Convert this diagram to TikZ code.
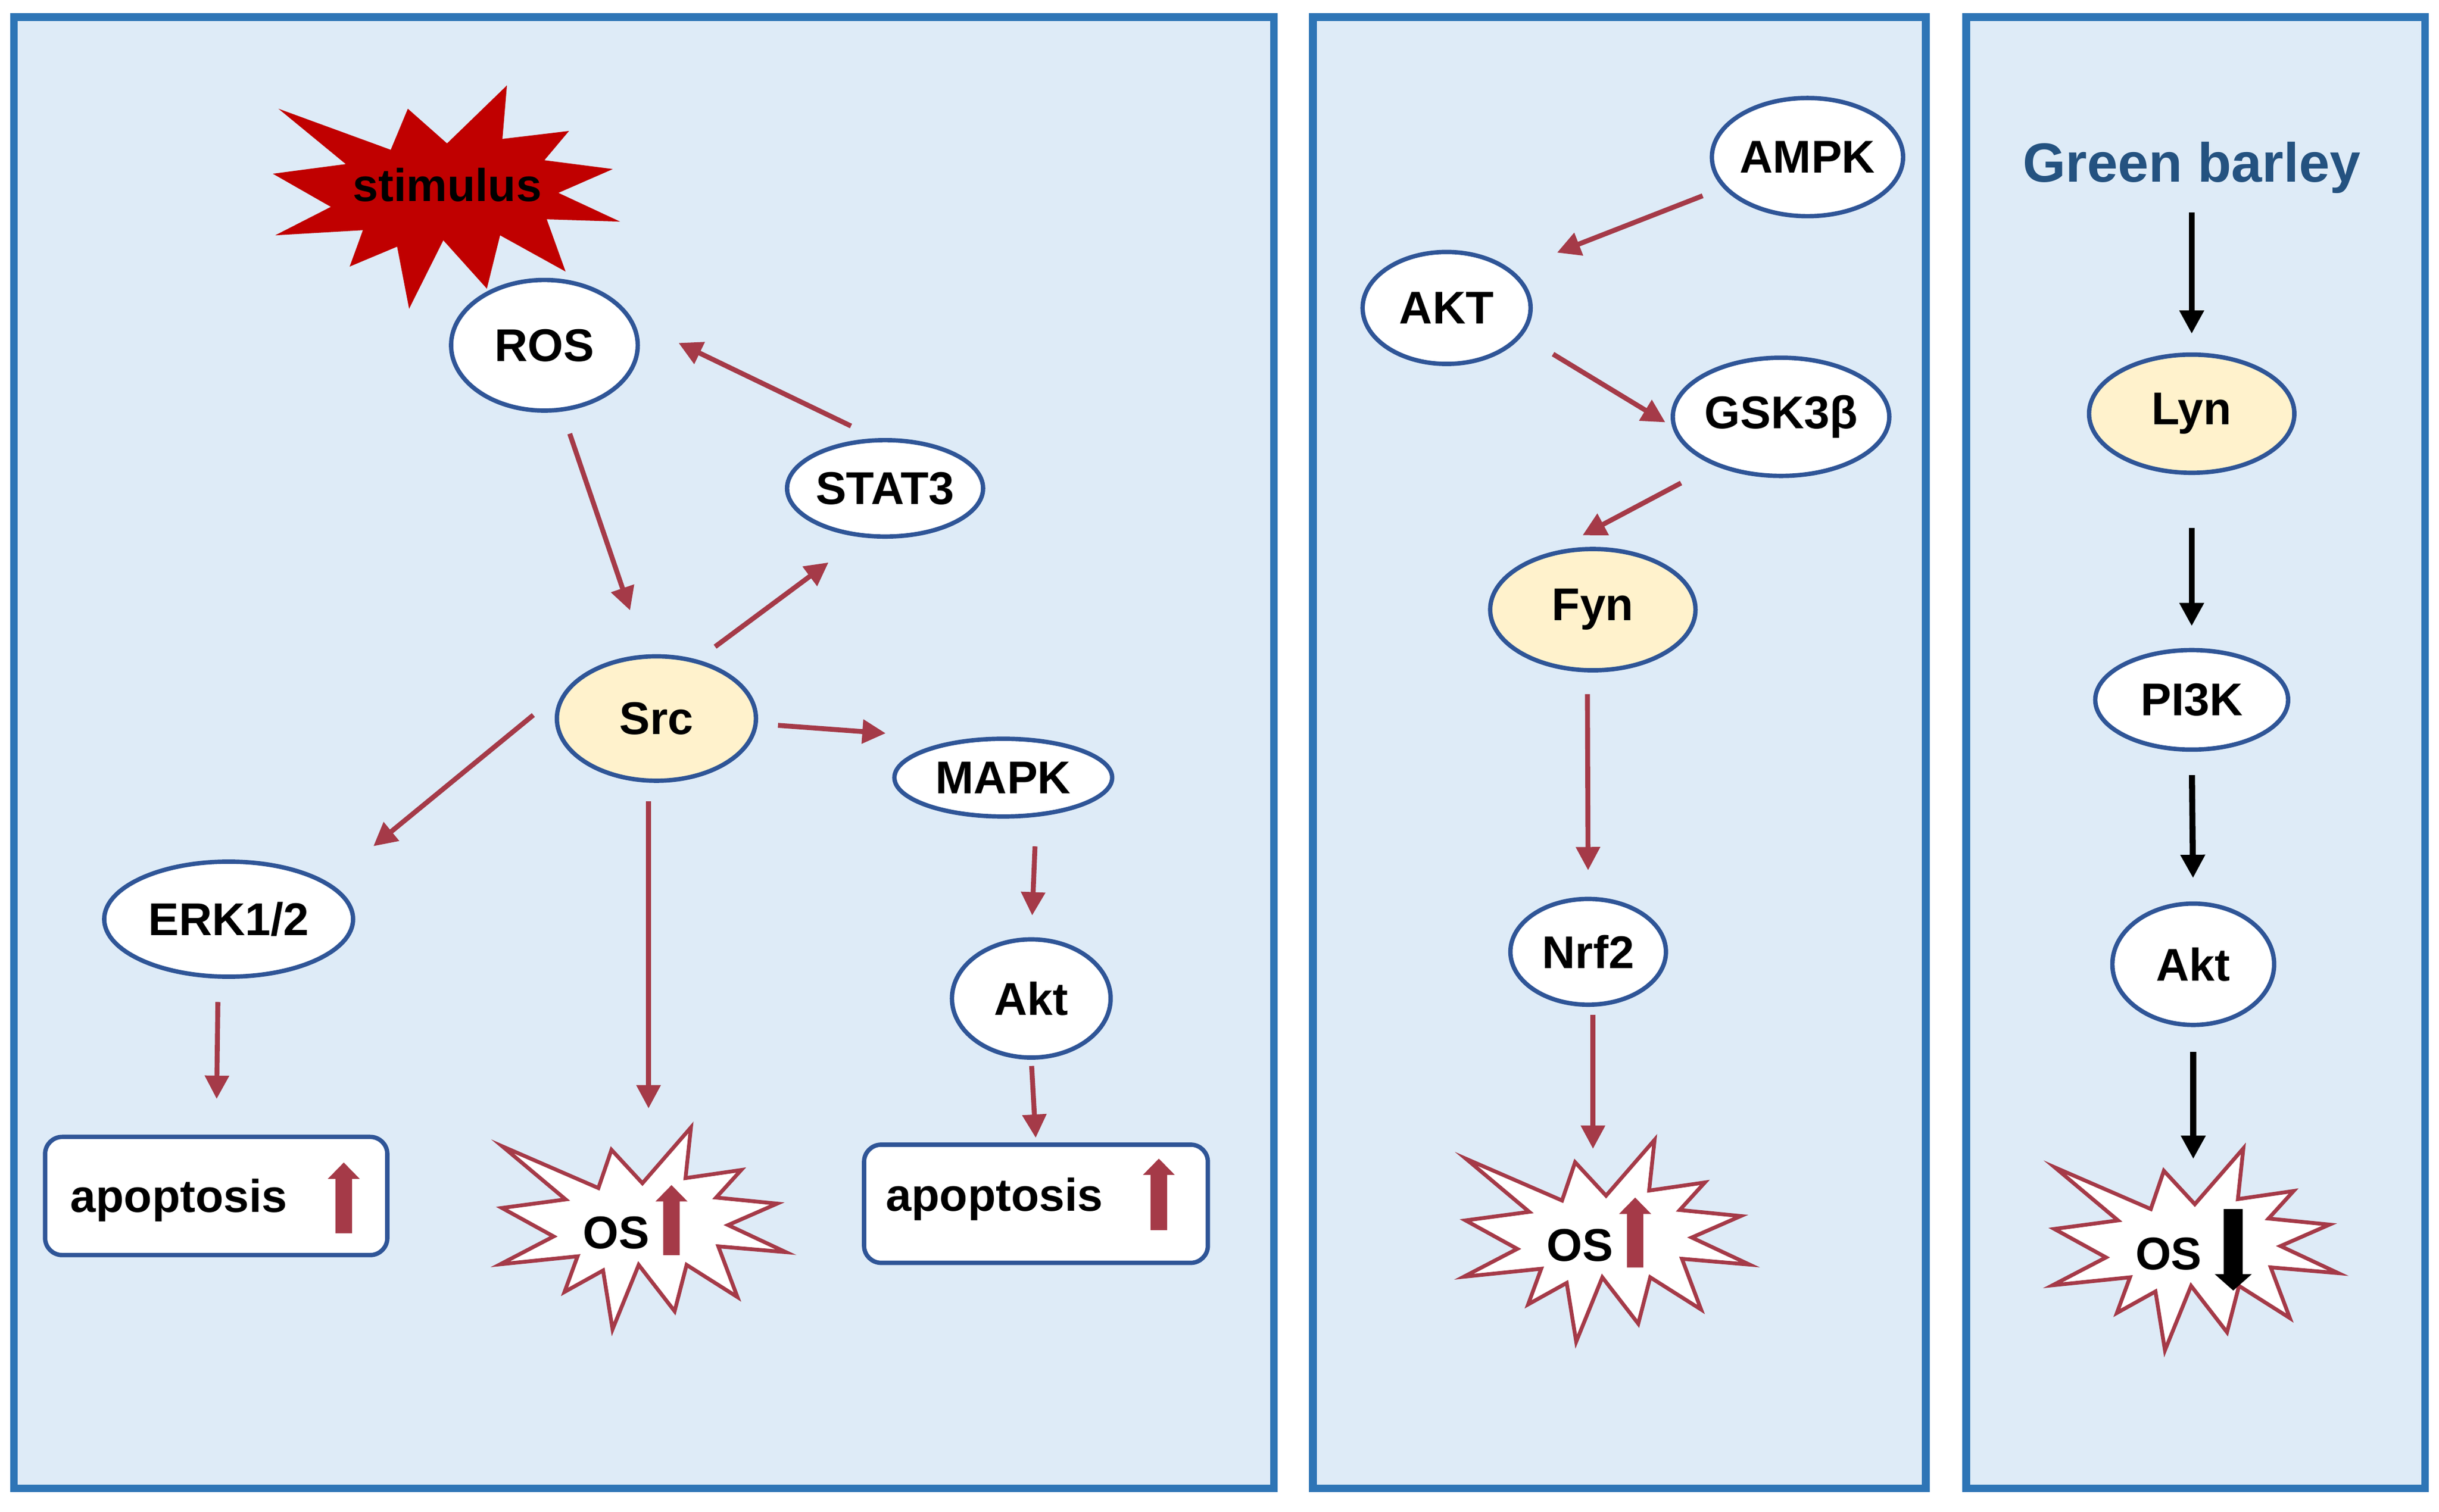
\documentclass[tikz,border=0pt]{standalone}
\usepackage{fontspec}
\setmainfont{Liberation Sans}
\usetikzlibrary{arrows.meta,shapes.geometric}
\definecolor{frameblue}{RGB}{46,117,182}
\definecolor{panelfill}{RGB}{222,235,247}
\definecolor{nodeblue}{RGB}{47,85,151}
\definecolor{cream}{RGB}{255,242,204}
\definecolor{arrred}{RGB}{165,58,72}
\definecolor{stimred}{RGB}{192,0,0}
\definecolor{barleyblue}{RGB}{36,82,128}
\tikzset{%
    panel/.style={draw=frameblue,line width=1.4pt,fill=panelfill},
    prot/.style={ellipse,draw=nodeblue,line width=0.8pt,fill=white,inner sep=0pt,
        font=\fontsize{8.4}{10}\selectfont\bfseries},
    kin/.style={prot,fill=cream},
    outbox/.style={rectangle,rounded corners=0.11cm,draw=nodeblue,line width=0.8pt,fill=white,
        minimum width=2.2cm,minimum height=0.76cm},
    lbl/.style={inner sep=0pt,font=\fontsize{8.4}{10}\selectfont\bfseries},
    redarr/.style={arrred,line width=0.9pt,-{Triangle[length=0.15cm,width=0.15cm]}},
    blkarr/.style={black,line width=1.1pt,-{Triangle[length=0.15cm,width=0.15cm]}},
    burst/.style={draw=arrred,line width=0.7pt,fill=white}
}
\newcommand{\osburst}[1]{%
    \draw[burst,shift={#1}] (-0.897,0.536) -- (-0.280,0.268) -- (-0.196,0.514) -- (0.003,0.299)
        -- (0.315,0.658) -- (0.280,0.332) -- (0.638,0.384) -- (0.477,0.207)
        -- (0.869,0.168) -- (0.554,0.030) -- (0.925,-0.144) -- (0.491,-0.107)
        -- (0.614,-0.433) -- (0.287,-0.226) -- (0.210,-0.524) -- (-0.021,-0.226)
        -- (-0.189,-0.640) -- (-0.250,-0.262) -- (-0.498,-0.400) -- (-0.414,-0.171)
        -- (-0.911,-0.222) -- (-0.568,-0.043) -- (-0.900,0.140) -- (-0.491,0.195) -- cycle;}
\newcommand{\fatarrow}[3]{%
    \fill[shift={#1},#3] (-0.053,0) -- (0.053,0) -- (0.053,#2-0.105) -- (0.103,#2-0.105)
        -- (0,#2) -- (-0.103,#2-0.105) -- (-0.053,#2-0.105) -- cycle;}

\begin{document}
\begin{tikzpicture}
    \fill[white] (0,0) rectangle (15.68,-9.72);
    \useasboundingbox (0,0) rectangle (15.68,-9.72);
    \draw[panel] (0.09,-0.11) rectangle (8.19,-9.57);
    \draw[panel] (8.44,-0.11) rectangle (12.38,-9.57);
    \draw[panel] (12.64,-0.11) rectangle (15.59,-9.57);

    \fill[stimred,shift={(2.87,-1.25)}] (0.389,0.701) -- (0.360,0.357) -- (0.788,0.408) -- (0.630,0.220)
        -- (1.070,0.163) -- (0.720,0.010) -- (1.117,-0.175) -- (0.645,-0.160)
        -- (0.766,-0.496) -- (0.345,-0.263) -- (0.260,-0.606) -- (-0.020,-0.295)
        -- (-0.240,-0.735) -- (-0.317,-0.336) -- (-0.622,-0.464) -- (-0.537,-0.230)
        -- (-1.101,-0.263) -- (-0.743,-0.080) -- (-1.116,0.133) -- (-0.647,0.195)
        -- (-1.080,0.551) -- (-0.358,0.287) -- (-0.248,0.551) -- (0.004,0.328) -- cycle;
    \node[lbl] (stim) at (2.875,-1.19) {stimulus};
    \node[prot,minimum width=1.20cm,minimum height=0.84cm] (ros) at (3.50,-2.22) {ROS};
    \node[prot,minimum width=1.26cm,minimum height=0.62cm] (stat) at (5.69,-3.14) {STAT3};
    \node[kin,minimum width=1.28cm,minimum height=0.80cm] (src) at (4.22,-4.62) {Src};
    \node[prot,minimum width=1.40cm,minimum height=0.50cm] (mapk) at (6.45,-5.00) {MAPK};
    \node[prot,minimum width=1.60cm,minimum height=0.74cm] (erk) at (1.47,-5.91) {ERK1/2};
    \node[prot,minimum width=1.02cm,minimum height=0.76cm] (akt1) at (6.63,-6.42) {Akt};
    \node[outbox] (ap1) at (1.39,-7.69) {};
    \node[lbl,anchor=west] (ap1txt) at (0.446,-7.719) {apoptosis};
    \node[outbox,minimum width=2.21cm] (ap2) at (6.66,-7.74) {};
    \node[lbl,anchor=west] (ap2txt) at (5.69,-7.71) {apoptosis};
    \coordinate (os1) at (4.127,-7.907);
    \osburst{(os1)}
    \node[lbl] (os1txt) at (3.962,-7.927) {OS};
    \fatarrow{(2.21,-7.93)}{0.455}{arrred}
    \fatarrow{(7.45,-7.91)}{0.46}{arrred}
    \fatarrow{(4.317,-8.070)}{0.45}{arrred}
    \draw[redarr,shorten <=0.18cm,shorten >=0.32cm] (stat.100) -- (ros.15);
    \draw[redarr,shorten <=0.15cm,shorten >=0.30cm] (ros.-75) -- (src.100);
    \draw[redarr,shorten <=0.14cm,shorten >=0.27cm] (src.55) -- (stat.-115);
    \draw[redarr,shorten <=0.13cm,shorten >=0.51cm] (src.-3) -- (mapk.135);
    \draw[redarr,shorten <=0.29cm,shorten >=0.37cm] (src.160) -- (erk.20);
    \draw[redarr,shorten <=0.12cm,shorten >=0.78cm] (src.-97) -- (src.-97 |- os1);
    \draw[redarr,shorten <=0.15cm,shorten >=0.23cm] (erk.-100) -- (ap1.north);
    \draw[redarr,shorten <=0.19cm,shorten >=0.14cm] (mapk.-50) -- (akt1.north);
    \draw[redarr,shorten <=0.04cm,shorten >=0.03cm] (akt1.south) -- (ap2.north);

    \node[prot,minimum width=1.22cm,minimum height=0.76cm] (ampk) at (11.62,-1.01) {AMPK};
    \node[prot,minimum width=1.08cm,minimum height=0.72cm] (akt2) at (9.30,-1.98) {AKT};
    \node[prot,minimum width=1.30cm,minimum height=0.76cm] (gsk) at (11.45,-2.68) {GSK3β};
    \node[kin,minimum width=1.32cm,minimum height=0.78cm] (fyn) at (10.24,-3.92) {Fyn};
    \node[prot,minimum width=1.00cm,minimum height=0.68cm] (nrf) at (10.21,-6.12) {Nrf2};
    \coordinate (os2) at (10.322,-7.987);
    \osburst{(os2)}
    \node[lbl] (os2txt) at (10.157,-8.007) {OS};
    \fatarrow{(10.512,-8.150)}{0.45}{arrred}
    \draw[redarr,shorten <=0.14cm,shorten >=0.31cm] (ampk.200) -- (akt2.30);
    \draw[redarr,shorten <=0.23cm,shorten >=0.05cm] (akt2.-20) -- (gsk.185);
    \draw[redarr,shorten <=0.24cm,shorten >=0.23cm] (gsk.-144) -- (fyn.126);
    \draw[redarr,shorten <=0.14cm,shorten >=0.17cm] (fyn.-95) -- (nrf.north);
    \draw[redarr,shorten <=0.05cm,shorten >=0.60cm] (nrf.-85) -- (nrf.-85 |- os2);

    \node[lbl,text=barleyblue,font=\fontsize{10.1}{12}\selectfont\bfseries] (gb) at (14.09,-1.077) {Green barley};
    \node[kin,minimum width=1.32cm,minimum height=0.76cm] (lyn) at (14.09,-2.66) {Lyn};
    \node[prot,minimum width=1.24cm,minimum height=0.64cm] (pi3k) at (14.09,-4.50) {PI3K};
    \node[prot,minimum width=1.04cm,minimum height=0.78cm] (akt3) at (14.10,-6.20) {Akt};
    \coordinate (os3) at (14.107,-8.042);
    \osburst{(os3)}
    \node[lbl] (os3txt) at (13.942,-8.062) {OS};
    \fatarrow{(14.357,-7.774)}{0.524}{black,yscale=-1,xscale=1.15}
    \draw[blkarr,shorten <=0.29cm,shorten >=0.12cm] (gb.center) -- (lyn.north);
    \draw[blkarr,shorten <=0.34cm,shorten >=0.14cm] (lyn.south) -- (pi3k.north);
    \draw[blkarr,shorten <=0.15cm,shorten >=0.15cm] (pi3k.south) -- (akt3.north);
    \draw[blkarr,shorten <=0.16cm,shorten >=0.59cm] (akt3.south) -- (akt3.south |- os3);
\end{tikzpicture}
\end{document}
